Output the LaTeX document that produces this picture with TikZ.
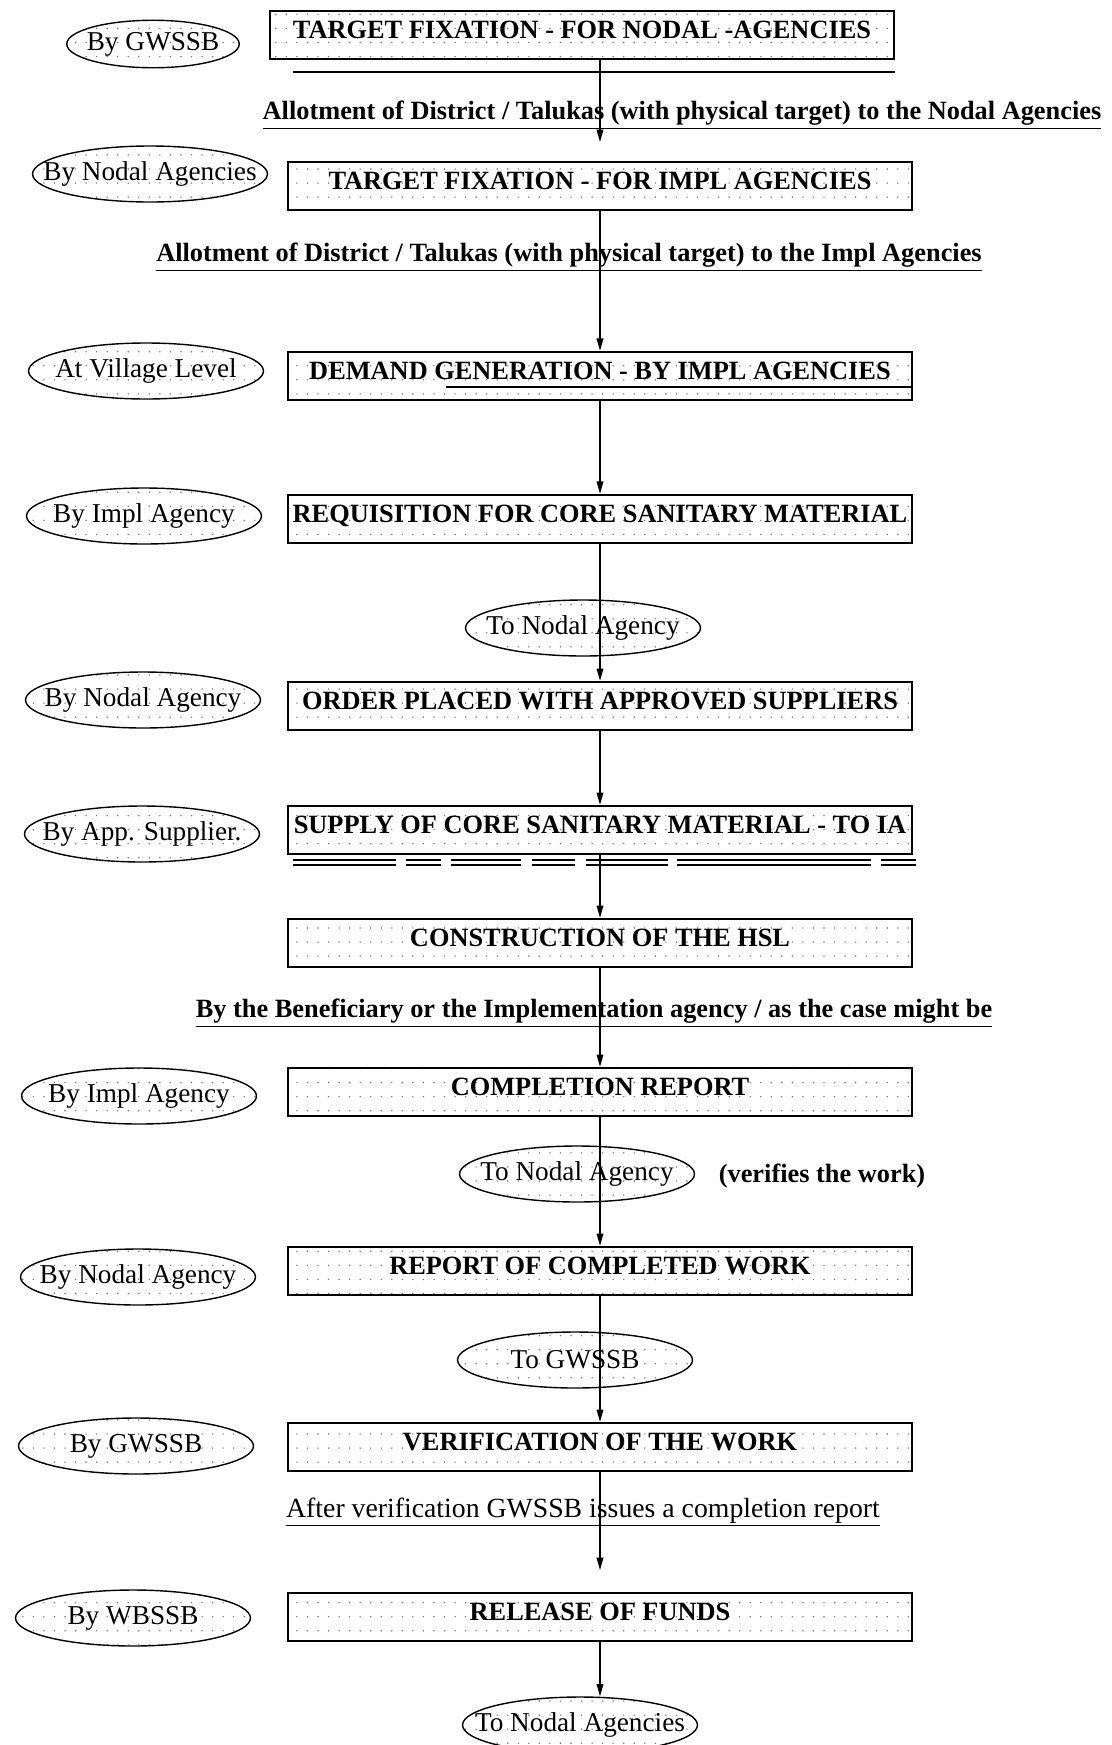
\documentclass[tikz,border=0pt]{standalone}
\usepackage{fontspec}
\setmainfont{Liberation Serif}
\usetikzlibrary{shapes.geometric,arrows.meta,patterns.meta}

\tikzdeclarepattern{
  name=scandots,
  type=uncolored,
  bottom left={(-.5pt,-.5pt)},
  top right={(6.5pt,8.5pt)},
  tile size={(6pt,8pt)},
  code={\pgfpathcircle{\pgfqpoint{1pt}{1pt}}{0.45pt}\pgfusepath{fill}}
}

\begin{document}
\begin{tikzpicture}[x=0.02cm, y=-0.02cm]
        \pgfdeclarelayer{nodelayer}
        \pgfdeclarelayer{edgelayer}
        \pgfsetlayers{nodelayer,main,edgelayer}
        \tikzstyle{box}=[draw, line width=1.1pt, pattern=scandots, pattern color=black!55, minimum width=12.5cm, minimum height=0.97cm, inner sep=0pt, text height=0.35cm, text depth=0.2cm, font=\fontsize{15}{17}\selectfont\bfseries]
        \tikzstyle{side}=[draw, shape=ellipse, line width=0.8pt, pattern=scandots, pattern color=black!55, minimum width=4.7cm, minimum height=1.12cm, inner xsep=-14pt, inner ysep=-2pt, font=\fontsize{15.5}{17}\selectfont]
        \tikzstyle{caption}=[fill=none, draw=none, inner sep=0pt, font=\fontsize{15}{17}\selectfont\bfseries]
        %\tikzstyle{arrow}=[->, thick]
        \tikzstyle{arrow}=[-{Triangle[length=7pt,width=3.8pt]}, line width=0.8pt]
        \tikzstyle{rule}=[line width=1pt]

        \useasboundingbox (0,0) rectangle (1112,1745);

        \begin{pgfonlayer}{nodelayer}
            % main column
            \node [style=box] (1) at (582, 35) {TARGET FIXATION - FOR NODAL -AGENCIES};
            \node [style=box] (2) at (600, 186) {TARGET FIXATION - FOR IMPL AGENCIES};
            \node [style=box] (3) at (600, 376) {DEMAND GENERATION - BY IMPL AGENCIES};
            \node [style=box] (4) at (600, 519) {REQUISITION FOR CORE SANITARY MATERIAL};
            \node [style=box] (5) at (600, 706) {ORDER PLACED WITH APPROVED SUPPLIERS};
            \node [style=box] (6) at (600, 830) {SUPPLY OF CORE SANITARY MATERIAL - TO IA};
            \node [style=box] (7) at (600, 943) {CONSTRUCTION OF THE HSL};
            \node [style=box] (8) at (600, 1092) {COMPLETION REPORT};
            \node [style=box] (9) at (600, 1271) {REPORT OF COMPLETED WORK};
            \node [style=box] (10) at (600, 1447) {VERIFICATION OF THE WORK};
            \node [style=box] (11) at (600, 1617) {RELEASE OF FUNDS};

            % who does it
            \node [style=side, minimum width=3.45cm, minimum height=0.95cm] (12) at (153, 44) {\raisebox{-0.3cm}{By GWSSB}};
            \node [style=side] (13) at (150, 174) {By Nodal Agencies};
            \node [style=side] (14) at (146, 371) {At Village Level};
            \node [style=side] (15) at (144, 516) {By Impl Agency};
            \node [style=side] (16) at (143, 700) {By Nodal Agency};
            \node [style=side] (17) at (142, 834) {By App. Supplier.};
            \node [style=side] (18) at (139, 1096) {By Impl Agency};
            \node [style=side] (19) at (138, 1277) {By Nodal Agency};
            \node [style=side] (20) at (136, 1446) {By GWSSB};
            \node [style=side] (21) at (133, 1618) {By WBSSB};

            % on the way down
            \node [style=side] (22) at (583, 628) {To Nodal Agency};
            \node [style=side] (23) at (577, 1174) {To Nodal Agency};
            \node [style=side] (24) at (575, 1360) {To GWSSB};
            \node [style=side] (25) at (580, 1725) {To Nodal Agencies};

            \node [style=caption] (26) at (682, 115) {\underline{Allotment of District / Talukas (with physical target) to the Nodal Agencies}};
            \node [style=caption] (27) at (569, 257) {\underline{Allotment of District / Talukas (with physical target) to the Impl Agencies}};
            \node [style=caption] (28) at (594, 1013) {\underline{By the Beneficiary or the Implementation agency / as the case might be}};
            \node [style=caption, font=\fontsize{15.8}{17}\selectfont] (29) at (583, 1512) {\underline{After verification GWSSB issues a completion report}};
            \node [style=caption] (30) at (822, 1176) {(verifies the work)};

            \coordinate (31) at (600, 142);
            \coordinate (32) at (600, 1570);
        \end{pgfonlayer}
        \begin{pgfonlayer}{edgelayer}
            \draw [line width=1.6pt] (293, 72) to (895, 72);
            \draw [line width=0.9pt] (446, 387) to (3.east |- 0, 387);
            \foreach \a/\b in {293/396, 406/441, 451/521, 532/575, 586/668, 677/871, 881/916}
            {
                \draw [style=rule] (\a, 860) to (\b, 860);
                \draw [style=rule] (\a, 865) to (\b, 865);
            }

            \draw [style=arrow] (1.south -| 2.north) to (31);
            \draw [style=arrow] (2.south) to (3.north);
            \draw [style=arrow] (3.south) to (4.north);
            \draw [style=arrow] (4.south) to (5.north);
            \draw [style=arrow] (5.south) to (6.north);
            \draw [style=arrow] (6.south) to (7.north);
            \draw [style=arrow] (7.south) to (8.north);
            \draw [style=arrow] (8.south) to (9.north);
            \draw [style=arrow] (9.south) to (10.north);
            \draw [style=arrow] (10.south) to (32);
            \draw [style=arrow] (11.south) to (11.south |- 25.north);
        \end{pgfonlayer}
\end{tikzpicture}
\end{document}
